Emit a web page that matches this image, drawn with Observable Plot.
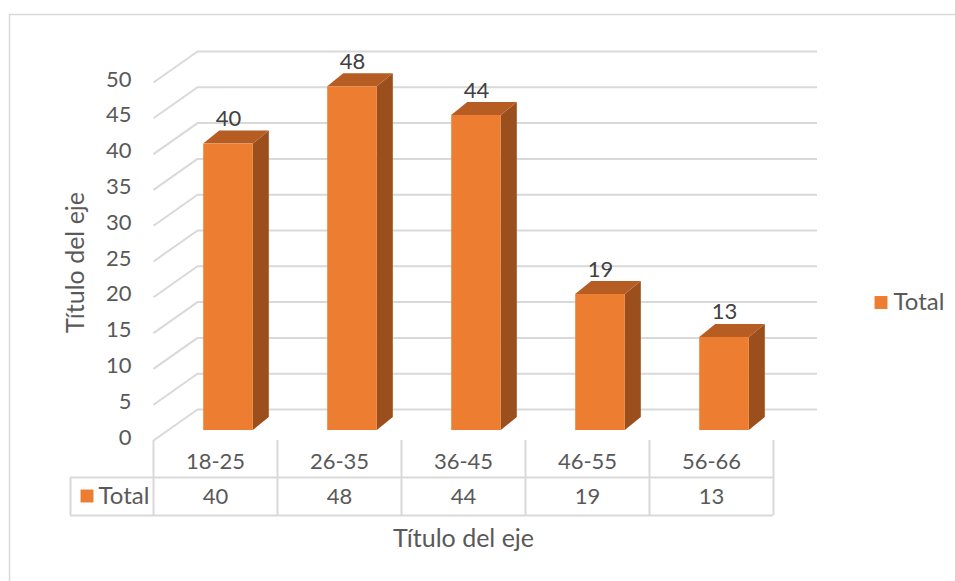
<!DOCTYPE html>
<html>
<head>
<meta charset="utf-8">
<script src="https://cdn.jsdelivr.net/npm/d3@7"></script>
<script src="https://cdn.jsdelivr.net/npm/@observablehq/plot@0.6"></script>
<style>
  html, body { margin: 0; padding: 0; background: #fff; overflow: hidden; }
  #chart svg { display: block; font-family: Lato, "Open Sans", sans-serif; }
</style>
</head>
<body>
<div id="chart"></div>
<script>
// ---- data ----
const categories = ["18-25", "26-35", "36-45", "46-55", "56-66"];
const totals = [40, 48, 44, 19, 13];
const yTicks = [0, 5, 10, 15, 20, 25, 30, 35, 40, 45, 50];
const seriesName = "Total";
const axisTitleX = "Título del eje";
const axisTitleY = "Título del eje";

// ---- styling constants ----
const FRONT = "#ED7D31", TOP = "#B55D23", SIDE = "#9A4F1D";
const GRID = "#D9D9D9", TXT = "#595959", LBL = "#404040";
const colPx = 124, unitPx = 7.16;            // scale factors (px per index / per unit)
const wallDx = 44, wallDy = 31;              // back wall offset (px)
const depthDx = 16 / colPx, depthDy = 13 / unitPx; // bar depth in data units
const barLeft = 0.405, barRight = 0.805, barShift = -10;
const NUM = 22, WORD = 24, TITLE = 25;       // font sizes

const data = categories.map((c, i) => ({i, c, v: totals[i]}));

const sideFaces = data.flatMap(d => [
  {i: d.i, x: d.i + barRight, y1: 0, y2: d.v},
  {i: d.i, x: d.i + barRight + depthDx, y1: depthDy, y2: d.v + depthDy}
]);
const topFaces = data.flatMap(d => [
  {i: d.i, x: d.i + barLeft, y1: d.v, y2: d.v},
  {i: d.i, x: d.i + barLeft + depthDx, y1: d.v, y2: d.v + depthDy},
  {i: d.i, x: d.i + barRight, y1: d.v, y2: d.v + depthDy},
  {i: d.i, x: d.i + barRight + depthDx, y1: d.v + depthDy, y2: d.v + depthDy}
]);

const cols = d3.range(categories.length + 1);

const chart = Plot.plot({
  width: 955,
  height: 581,
  margin: 0,
  style: {fontFamily: "Lato, 'Open Sans', sans-serif", fontSize: "22px", background: "#fff"},
  x: {type: "linear", domain: [0, categories.length], range: [153, 773], axis: null},
  y: {type: "linear", domain: [0, 50], range: [440, 82], axis: null},
  marks: [
    // outer chart border
    Plot.frame({stroke: GRID, strokeWidth: 1.5, insetLeft: 9, insetTop: 14, insetRight: -5, insetBottom: -5}),
    // back wall gridlines
    Plot.ruleY(yTicks, {y: d => d, x1: 0, x2: categories.length, dx: wallDx, dy: -wallDy, stroke: GRID, strokeWidth: 2}),
    // side wall diagonals
    Plot.link(yTicks, {x1: 0, y1: d => d, x2: wallDx / colPx, y2: d => d + wallDy / unitPx, stroke: GRID, strokeWidth: 2}),
    // y tick labels
    Plot.text(yTicks, {x: 0, y: d => d, text: d => String(d), textAnchor: "end", dx: -22, dy: -3, fill: TXT, fontSize: NUM}),
    // bars: side faces
    Plot.areaY(sideFaces, {x: "x", y1: "y1", y2: "y2", z: "i", fill: SIDE, dy: barShift, curve: "linear"}),
    // bars: top faces
    Plot.areaY(topFaces, {x: "x", y1: "y1", y2: "y2", z: "i", fill: TOP, dy: barShift, curve: "linear"}),
    // bars: front faces
    Plot.rect(data, {x1: d => d.i + barLeft, x2: d => d.i + barRight, y1: 0, y2: "v", fill: FRONT, dy: barShift}),
    // value labels
    Plot.text(data, {x: d => d.i + (barLeft + barRight) / 2, y: "v", text: d => String(d.v), dy: barShift - 25, fill: LBL, fontSize: NUM}),
    // data table: vertical lines
    Plot.ruleX(cols, {x: d => d, insetTop: 440, insetBottom: 581 - 515, stroke: GRID, strokeWidth: 2}),
    Plot.ruleX([0], {x: d => d, dx: -83, insetTop: 477, insetBottom: 581 - 515, stroke: GRID, strokeWidth: 2}),
    // data table: horizontal lines
    Plot.ruleY([0], {y: d => d, x1: 0, x2: categories.length, insetLeft: -83, dy: 37, stroke: GRID, strokeWidth: 2}),
    Plot.ruleY([0], {y: d => d, x1: 0, x2: categories.length, insetLeft: -83, dy: 75, stroke: GRID, strokeWidth: 2}),
    // category labels
    Plot.text(data, {x: d => d.i + 0.5, y: 0, text: "c", dy: 21, fill: TXT, fontSize: NUM}),
    // table values
    Plot.text(data, {x: d => d.i + 0.5, y: 0, text: d => String(d.v), dy: 56, fill: TXT, fontSize: NUM}),
    // table legend key
    Plot.dot([seriesName], {x: 0, y: 0, dx: -66.5, dy: 55.5, symbol: "square", r: 7.3, fill: FRONT, stroke: null}),
    Plot.text([seriesName], {x: 0, y: 0, dx: -55, dy: 56, textAnchor: "start", text: d => d, fill: TXT, fontSize: WORD}),
    // x axis title
    Plot.text([axisTitleX], {x: categories.length / 2, y: 0, dy: 98, text: d => d, fill: TXT, fontSize: TITLE}),
    // y axis title
    Plot.text([axisTitleY], {x: (75 - 153) / colPx, y: (440 - 262) / unitPx, rotate: -90, text: d => d, fill: TXT, fontSize: TITLE}),
    // right legend
    Plot.dot([seriesName], {frameAnchor: "top-left", dx: 880.5, dy: 302, symbol: "square", r: 7.3, fill: FRONT, stroke: null}),
    Plot.text([seriesName], {frameAnchor: "top-left", lineAnchor: "middle", dx: 893, dy: 302, textAnchor: "start", text: d => d, fill: TXT, fontSize: WORD})
  ]
});
document.getElementById("chart").append(chart);
</script>
</body>
</html>
